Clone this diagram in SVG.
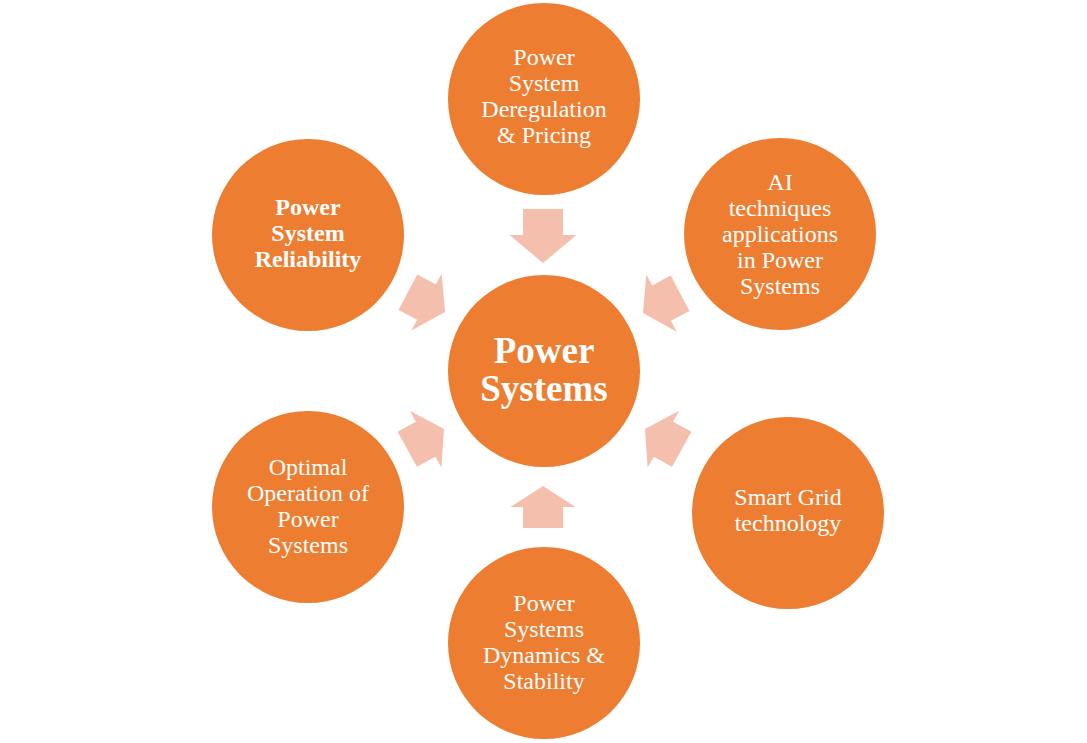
<svg xmlns="http://www.w3.org/2000/svg" width="1087" height="743" viewBox="0 0 1087 743">
<style>
.c{fill:#ED7D31}
.a{fill:#F4BFAD}
.t{font-family:"Liberation Serif","Times New Roman",serif;font-size:24px;fill:#fff;text-anchor:middle}
.b{font-weight:bold}
.big{font-size:37px;font-weight:bold}
</style>
<defs>
<path id="arr" d="M0,0 L-21,-32.5 L-21,-20 L-42,-20 L-42,20 L-21,20 L-21,32.5 Z"/>
</defs>
<rect width="1087" height="743" fill="#fff"/>
<g id="connectors" class="a">
<path d="M0,0 L-28,-33.5 L-28,-20 L-54,-20 L-54,20 L-28,20 L-28,33.5 Z" transform="translate(543,263) rotate(90)"/>
<use href="#arr" transform="translate(543,486) rotate(-90)"/>
<use href="#arr" transform="translate(445,312) rotate(28)"/>
<use href="#arr" transform="translate(643,313) rotate(152)"/>
<use href="#arr" transform="translate(444,429) rotate(-29)"/>
<use href="#arr" transform="translate(645,429) rotate(209)"/>
</g>
<g id="center">
<circle class="c" cx="544" cy="371" r="96"/>
<text class="t big" x="544" y="363">Power</text>
<text class="t big" x="544" y="401">Systems</text>
</g>
<g id="top">
<circle class="c" cx="544" cy="99" r="96"/>
<text class="t" x="544" y="65">Power</text>
<text class="t" x="544" y="91">System</text>
<text class="t" x="544" y="117">Deregulation</text>
<text class="t" x="544" y="143">&amp; Pricing</text>
</g>
<g id="topright">
<circle class="c" cx="780" cy="234" r="96"/>
<text class="t" x="780" y="190">AI</text>
<text class="t" x="780" y="216">techniques</text>
<text class="t" x="780" y="242">applications</text>
<text class="t" x="780" y="268">in Power</text>
<text class="t" x="780" y="294">Systems</text>
</g>
<g id="bottomright">
<circle class="c" cx="788" cy="513" r="96"/>
<text class="t" x="788" y="505">Smart Grid</text>
<text class="t" x="788" y="531">technology</text>
</g>
<g id="bottom">
<circle class="c" cx="544" cy="643" r="96"/>
<text class="t" x="544" y="611">Power</text>
<text class="t" x="544" y="637">Systems</text>
<text class="t" x="544" y="663">Dynamics &amp;</text>
<text class="t" x="544" y="689">Stability</text>
</g>
<g id="bottomleft">
<circle class="c" cx="308" cy="507" r="96"/>
<text class="t" x="308" y="475">Optimal</text>
<text class="t" x="308" y="501">Operation of</text>
<text class="t" x="308" y="527">Power</text>
<text class="t" x="308" y="553">Systems</text>
</g>
<g id="topleft">
<circle class="c" cx="308" cy="235" r="96"/>
<text class="t b" x="308" y="215">Power</text>
<text class="t b" x="308" y="241">System</text>
<text class="t b" x="308" y="267">Reliability</text>
</g>
</svg>
